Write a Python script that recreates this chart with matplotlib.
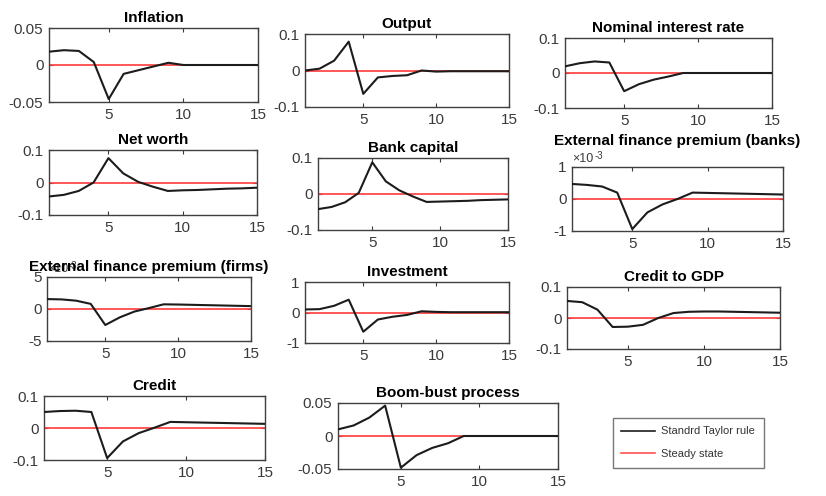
import numpy as np
import matplotlib.pyplot as plt
from matplotlib.ticker import FuncFormatter
from matplotlib.lines import Line2D

plt.rcParams['font.family'] = ['Liberation Sans', 'DejaVu Sans']
plt.rcParams['axes.unicode_minus'] = False

periods = np.arange(1, 16)

inflation = [0.018, 0.020, 0.019, 0.004, -0.046, -0.012, -0.007, -0.002, 0.003,
             0.0, 0.0, 0.0, 0.0, 0.0, 0.0]
output = [0.0, 0.005, 0.027, 0.079, -0.064, -0.019, -0.015, -0.013, 0.0,
          -0.003, -0.002, -0.002, -0.002, -0.002, -0.002]
nominal_rate = [0.019, 0.028, 0.033, 0.030, -0.052, -0.032, -0.019, -0.010, 0.0,
                0.0, 0.0, 0.0, 0.0, 0.0, 0.0]
net_worth = [-0.043, -0.038, -0.026, 0.0, 0.075, 0.028, 0.002, -0.013, -0.026,
             -0.024, -0.023, -0.021, -0.019, -0.018, -0.016]
bank_capital = [-0.042, -0.036, -0.023, 0.003, 0.088, 0.035, 0.010, -0.007, -0.022,
                -0.021, -0.020, -0.019, -0.017, -0.016, -0.015]
efp_banks = [0.47e-3, 0.44e-3, 0.39e-3, 0.20e-3, -0.94e-3, -0.42e-3, -0.17e-3, 0.0, 0.20e-3,
             0.19e-3, 0.18e-3, 0.17e-3, 0.16e-3, 0.15e-3, 0.14e-3]
efp_firms = [1.55e-3, 1.50e-3, 1.30e-3, 0.80e-3, -2.50e-3, -1.30e-3, -0.40e-3, 0.15e-3, 0.73e-3,
             0.70e-3, 0.65e-3, 0.60e-3, 0.55e-3, 0.50e-3, 0.45e-3]
investment = [0.10, 0.11, 0.22, 0.42, -0.63, -0.23, -0.14, -0.08, 0.04,
              0.02, 0.01, 0.01, 0.01, 0.01, 0.01]
credit_gdp = [0.055, 0.051, 0.027, -0.029, -0.028, -0.022, 0.0, 0.016, 0.020,
              0.021, 0.021, 0.020, 0.019, 0.018, 0.017]
credit = [0.050, 0.053, 0.054, 0.050, -0.094, -0.042, -0.016, 0.001, 0.019,
          0.018, 0.017, 0.016, 0.015, 0.014, 0.013]
boom_bust = [0.010, 0.016, 0.028, 0.046, -0.048, -0.029, -0.018, -0.011, 0.0,
             0.0, 0.0, 0.0, 0.0, 0.0, 0.0]

# (title, series, y limit, pixel box left/top/right/bottom, scaled by 1e-3, title pad)
panels = [
    ('Inflation', inflation, 0.05, (49, 28, 258, 102), False, 4),
    ('Output', output, 0.1, (305, 34, 509, 107), False, 4),
    ('Nominal interest rate', nominal_rate, 0.1, (565, 38, 772, 108), False, 4),
    ('Net worth', net_worth, 0.1, (49, 150, 257, 215), False, 4),
    ('Bank capital', bank_capital, 0.1, (318, 158, 508, 230), False, 4),
    ('External finance premium (banks)', efp_banks, 1e-3, (572, 167, 783, 231), True, 16),
    ('External finance premium (firms)', efp_firms, 5e-3, (47, 277, 251, 341), True, 4),
    ('Investment', investment, 1, (305, 282, 509, 343), False, 4),
    ('Credit to GDP', credit_gdp, 0.1, (567, 287, 780, 349), False, 4),
    ('Credit', credit, 0.1, (44, 396, 265, 460), False, 4),
    ('Boom-bust process', boom_bust, 0.05, (338, 403, 558, 469), False, 4),
]

W, H = 826, 496
fig = plt.figure(figsize=(W / 100, H / 100), dpi=100)

label_col = '#3a3a3a'
for title, series, lim, (l, t, r, b), sci, tpad in panels:
    ax = fig.add_axes([l / W, 1 - b / H, (r - l) / W, (b - t) / H])
    ax.plot(periods, series, color='#1c1c1c', lw=1.5, zorder=3)
    ax.axhline(0, color='#ff3b3b', lw=1.2, zorder=2)
    ax.set_xlim(1, 15)
    ax.set_ylim(-lim, lim)
    ax.set_xticks([5, 10, 15])
    ax.set_yticks([-lim, 0, lim])
    ax.tick_params(direction='in', length=3, top=True, right=True,
                   labelsize=11, colors=label_col)
    ax.tick_params(axis='x', pad=4)
    ax.tick_params(axis='y', pad=4)
    for sp in ax.spines.values():
        sp.set_color('#404040')
        sp.set_linewidth(1.0)
    if sci:
        ax.yaxis.set_major_formatter(FuncFormatter(lambda v, p: '%g' % round(v * 1e3, 6)))
        ax.text(0.0, 1.03, '×10', transform=ax.transAxes, fontsize=9,
                color=label_col, ha='left', va='bottom')
        ax.text(0.105, 1.10, '-3', transform=ax.transAxes, fontsize=7,
                color=label_col, ha='left', va='bottom')
    else:
        ax.yaxis.set_major_formatter(FuncFormatter(lambda v, p: '%g' % v))
    ax.set_title(title, fontsize=11, fontweight='bold', pad=tpad, zorder=5)

handles = [Line2D([], [], color='#1c1c1c', lw=1.2),
           Line2D([], [], color='#ff5050', lw=1.2)]
leg = fig.legend(handles, ['Standrd Taylor rule', 'Steady state'],
                 loc='upper left', bbox_to_anchor=(607 / W, 1 - 412 / H),
                 fontsize=8, frameon=True, fancybox=False, handlelength=3,
                 borderpad=0.8, labelspacing=1.1, handletextpad=0.6)
leg.get_frame().set_edgecolor('#555555')
leg.get_frame().set_linewidth(1.0)
for txt in leg.get_texts():
    txt.set_color('#333333')

fig.savefig('out.png', dpi=100)
